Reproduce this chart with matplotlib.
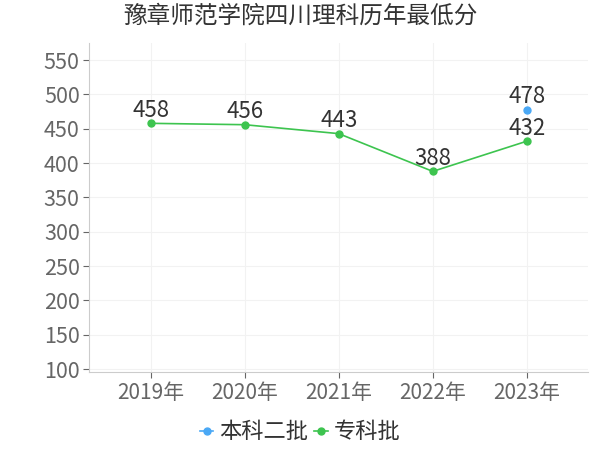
import matplotlib
matplotlib.use("Agg")
import matplotlib.pyplot as plt
import numpy as np

plt.rcParams['font.family'] = ['Noto Sans CJK SC', 'DejaVu Sans']

# data
years = ["2019年", "2020年", "2021年", "2022年", "2023年"]
benke2 = [None, None, None, None, 478]
zhuanke = [458, 456, 443, 388, 432]
yticks = [100, 150, 200, 250, 300, 350, 400, 450, 500, 550]

blue = "#4aa8f5"
green = "#3dc44f"

fig = plt.figure(figsize=(6, 4.5), dpi=100)
ax = fig.add_axes([0.149, 0.173, 0.831, 0.731])

x = np.arange(len(years))

b = np.array([np.nan if v is None else v for v in benke2], dtype=float)
ax.plot(x, b, color=blue, marker="o", markersize=5, linewidth=1.2, label="本科二批", zorder=3)
ax.plot(x, zhuanke, color=green, marker="o", markersize=5, linewidth=1.2, label="专科批", zorder=3)

for xi, v in zip(x, b):
    if not np.isnan(v):
        ax.annotate(f"{int(v)}", (xi, v), xytext=(0, 1), textcoords="offset points",
                    ha="center", va="bottom", fontsize=16, color="#333333")
for xi, v in zip(x, zhuanke):
    ax.annotate(f"{v}", (xi, v), xytext=(0, 1), textcoords="offset points",
                ha="center", va="bottom", fontsize=16, color="#333333")

ax.set_xlim(-0.65, 4.65)
ax.set_ylim(95.6, 574.7)
ax.set_xticks(x)
ax.set_xticklabels(years)
ax.set_yticks(yticks)
ax.tick_params(axis="y", labelsize=15.5, colors="#666666", length=4, width=0.8, pad=3)
ax.tick_params(axis="x", labelsize=15, colors="#666666", length=4, width=0.8, pad=3)
ax.grid(True, color="#f2f2f2", linewidth=0.8)
ax.set_axisbelow(True)

for s in ["top", "right"]:
    ax.spines[s].set_visible(False)
for s in ["left", "bottom"]:
    ax.spines[s].set_color("#cccccc")

fig.suptitle("豫章师范学院四川理科历年最低分", fontsize=17, color="#333333", x=0.5, y=0.99)

fig.legend(loc="center", bbox_to_anchor=(0.5, 0.04), ncol=2, frameon=False,
           fontsize=16, handlelength=0.6, handletextpad=0.25, columnspacing=0.3,
           labelcolor="#333333")

fig.savefig("out.png", dpi=100)
